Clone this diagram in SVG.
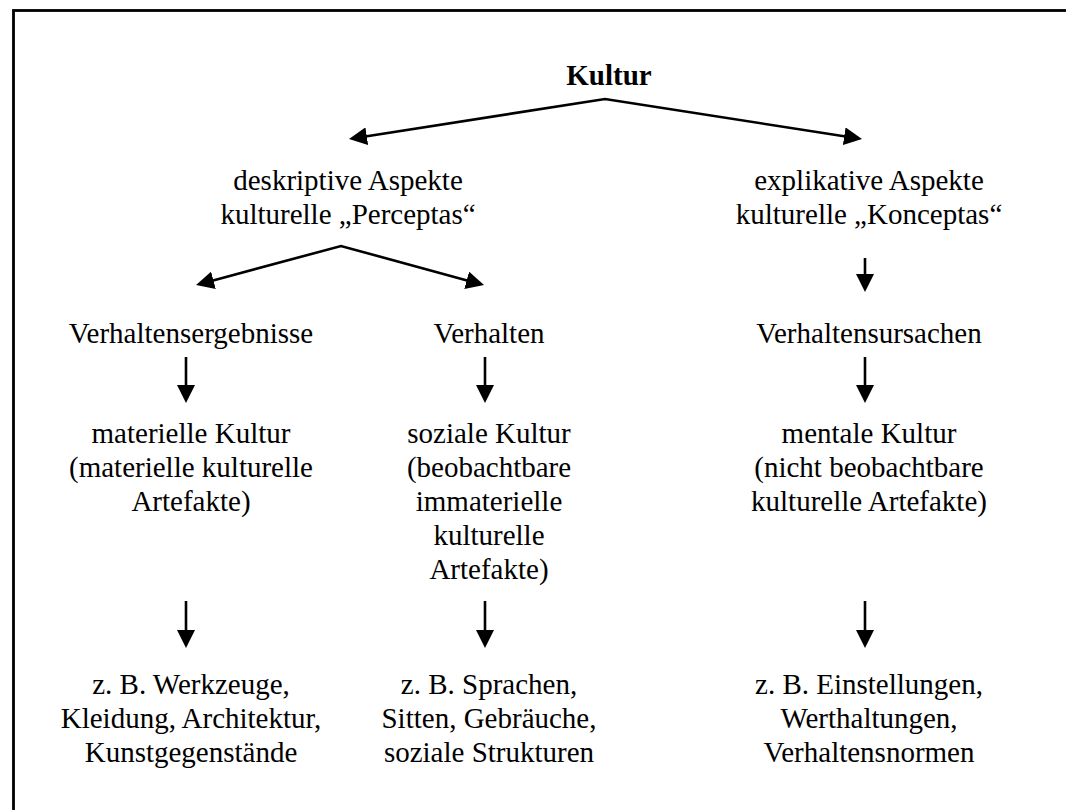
<svg xmlns="http://www.w3.org/2000/svg" width="1066" height="810" viewBox="0 0 1066 810">
<style>
text{font-family:"Liberation Serif","Times New Roman",serif;font-size:29px;fill:#000;text-anchor:middle}
.b{font-weight:bold}
.c{stroke:#000;stroke-width:2.6;fill:none}
</style>
<defs>
<marker id="ah" viewBox="0 0 18 18" refX="8" refY="9" markerWidth="18" markerHeight="18" markerUnits="userSpaceOnUse" orient="auto-start-reverse"><path d="M0,0 L18,9 L0,18 z" fill="#000"/></marker>
</defs>
<rect width="1066" height="810" fill="#fff"/>
<rect x="13.5" y="10.5" width="1100" height="850" fill="none" stroke="#000" stroke-width="2.8"/>
<g id="connectors">
<polyline class="c" points="358.9,137.5 605,99 852.1,137.5" marker-start="url(#ah)" marker-end="url(#ah)"/>
<polyline class="c" points="205.7,282.4 341,246 474.4,282.4" marker-start="url(#ah)" marker-end="url(#ah)"/>
<line class="c" x1="865" y1="258" x2="865" y2="282" marker-end="url(#ah)"/>
<line class="c" x1="186" y1="357" x2="186" y2="393" marker-end="url(#ah)"/>
<line class="c" x1="485" y1="357" x2="485" y2="393" marker-end="url(#ah)"/>
<line class="c" x1="865" y1="357" x2="865" y2="393" marker-end="url(#ah)"/>
<line class="c" x1="186" y1="601" x2="186" y2="638" marker-end="url(#ah)"/>
<line class="c" x1="485" y1="601" x2="485" y2="638" marker-end="url(#ah)"/>
<line class="c" x1="865" y1="601" x2="865" y2="638" marker-end="url(#ah)"/>
</g>
<g id="kultur"><text class="b" x="609" y="85">Kultur</text></g>
<g id="deskriptiv"><text x="348" y="190">deskriptive Aspekte</text><text x="348" y="224">kulturelle „Perceptas“</text></g>
<g id="explikativ"><text x="869" y="190">explikative Aspekte</text><text x="869" y="224">kulturelle „Konceptas“</text></g>
<g id="ergebnisse"><text x="191" y="343">Verhaltensergebnisse</text></g>
<g id="verhalten"><text x="489" y="343">Verhalten</text></g>
<g id="ursachen"><text x="869" y="343">Verhaltensursachen</text></g>
<g id="materiell"><text x="191" y="443">materielle Kultur</text><text x="191" y="477">(materielle kulturelle</text><text x="191" y="511">Artefakte)</text></g>
<g id="sozial"><text x="489" y="443">soziale Kultur</text><text x="489" y="477">(beobachtbare</text><text x="489" y="511">immaterielle</text><text x="489" y="545">kulturelle</text><text x="489" y="579">Artefakte)</text></g>
<g id="mental"><text x="869" y="443">mentale Kultur</text><text x="869" y="477">(nicht beobachtbare</text><text x="869" y="511">kulturelle Artefakte)</text></g>
<g id="bsp-materiell"><text x="191" y="694">z. B. Werkzeuge,</text><text x="191" y="728">Kleidung, Architektur,</text><text x="191" y="762">Kunstgegenstände</text></g>
<g id="bsp-sozial"><text x="489" y="694">z. B. Sprachen,</text><text x="489" y="728">Sitten, Gebräuche,</text><text x="489" y="762">soziale Strukturen</text></g>
<g id="bsp-mental"><text x="869" y="694">z. B. Einstellungen,</text><text x="869" y="728">Werthaltungen,</text><text x="869" y="762">Verhaltensnormen</text></g>
</svg>
